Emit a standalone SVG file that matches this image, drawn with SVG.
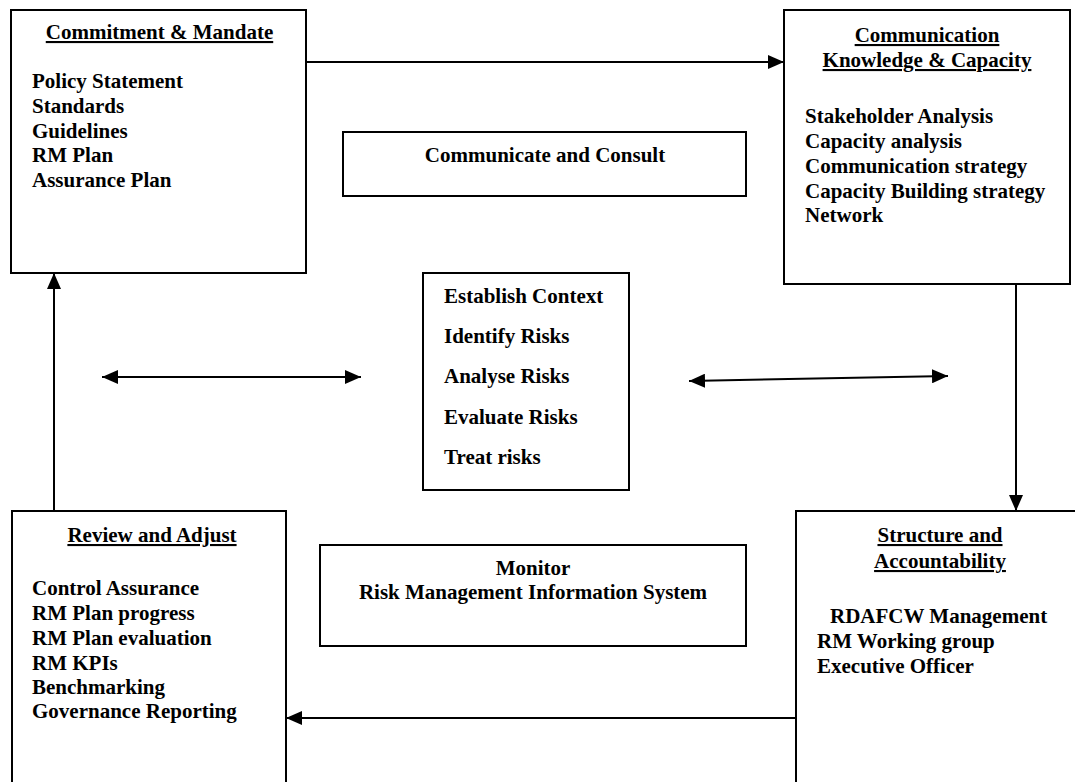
<svg xmlns="http://www.w3.org/2000/svg" width="1075" height="782" viewBox="0 0 1075 782">
<style>
  .box { fill: #ffffff; stroke: #000000; stroke-width: 2; }
  .t { font-family: "Liberation Serif", "Times New Roman", serif; font-size: 21px; font-weight: bold; fill: #000000; }
  .c { text-anchor: middle; }
  .u { text-decoration: underline; }
  .ln { fill: none; stroke: #000000; stroke-width: 2; }
</style>
<defs>
  <marker id="ah" viewBox="0 0 16 14" refX="16" refY="7" markerWidth="16" markerHeight="14" markerUnits="userSpaceOnUse" orient="auto-start-reverse">
    <path d="M0,0 L16,7 L0,14 Z" fill="#000000"/>
  </marker>
</defs>
<rect width="1075" height="782" fill="#ffffff"/>

<g id="commitment">
  <rect class="box" x="11" y="10" width="295" height="263"/>
  <text class="t c u" x="159.5" y="39">Commitment &amp; Mandate</text>
  <text class="t" x="32" y="88">Policy Statement</text>
  <text class="t" x="32" y="113">Standards</text>
  <text class="t" x="32" y="138">Guidelines</text>
  <text class="t" x="32" y="162">RM Plan</text>
  <text class="t" x="32" y="187">Assurance Plan</text>
</g>

<g id="communication">
  <rect class="box" x="784" y="10" width="286" height="274"/>
  <text class="t c u" x="927" y="42">Communication</text>
  <text class="t c u" x="927" y="67">Knowledge &amp; Capacity</text>
  <text class="t" x="805" y="123">Stakeholder Analysis</text>
  <text class="t" x="805" y="148">Capacity analysis</text>
  <text class="t" x="805" y="173">Communication strategy</text>
  <text class="t" x="805" y="198">Capacity Building strategy</text>
  <text class="t" x="805" y="222">Network</text>
</g>

<g id="consult">
  <rect class="box" x="343" y="132" width="403" height="64"/>
  <text class="t c" x="545" y="162">Communicate and Consult</text>
</g>

<g id="process">
  <rect class="box" x="423" y="273" width="206" height="217"/>
  <text class="t" x="444" y="303">Establish Context</text>
  <text class="t" x="444" y="343">Identify Risks</text>
  <text class="t" x="444" y="383">Analyse Risks</text>
  <text class="t" x="444" y="424">Evaluate Risks</text>
  <text class="t" x="444" y="464">Treat risks</text>
</g>

<g id="monitor">
  <rect class="box" x="320" y="545" width="426" height="101"/>
  <text class="t c" x="533" y="575">Monitor</text>
  <text class="t c" x="533" y="599">Risk Management Information System</text>
</g>

<g id="review">
  <rect class="box" x="12" y="511" width="274" height="300"/>
  <text class="t c u" x="152" y="542">Review and Adjust</text>
  <text class="t" x="32" y="595">Control Assurance</text>
  <text class="t" x="32" y="620">RM Plan progress</text>
  <text class="t" x="32" y="645">RM Plan evaluation</text>
  <text class="t" x="32" y="670">RM KPIs</text>
  <text class="t" x="32" y="694">Benchmarking</text>
  <text class="t" x="32" y="718">Governance Reporting</text>
</g>

<g id="structure">
  <rect class="box" x="796" y="511" width="300" height="300"/>
  <text class="t c u" x="940" y="542">Structure and</text>
  <text class="t c u" x="940" y="568">Accountability</text>
  <text class="t" x="830" y="623">RDAFCW Management</text>
  <text class="t" x="817" y="648">RM Working group</text>
  <text class="t" x="817" y="673">Executive Officer</text>
</g>

<g id="connectors">
  <line class="ln" x1="306" y1="62" x2="784" y2="62" marker-end="url(#ah)"/>
  <line class="ln" x1="1016" y1="284" x2="1016" y2="511" marker-end="url(#ah)"/>
  <line class="ln" x1="796" y1="718" x2="286" y2="718" marker-end="url(#ah)"/>
  <line class="ln" x1="54" y1="511" x2="54" y2="273" marker-end="url(#ah)"/>
  <line class="ln" x1="102" y1="377" x2="361" y2="377" marker-start="url(#ah)" marker-end="url(#ah)"/>
  <line class="ln" x1="689" y1="381" x2="948" y2="376" marker-start="url(#ah)" marker-end="url(#ah)"/>
</g>
</svg>
